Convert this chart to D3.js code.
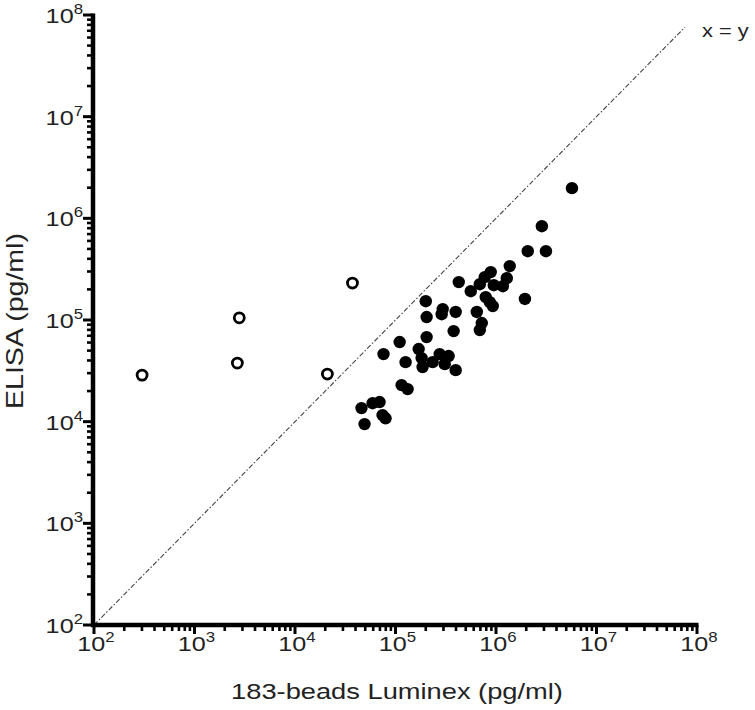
<!DOCTYPE html>
<html><head><meta charset="utf-8">
<script src="https://cdn.jsdelivr.net/npm/d3@7"></script>
<style>
body{margin:0;background:#fff}
svg{display:block}
text{font-family:"Liberation Sans",Arial,sans-serif;fill:#222}
</style></head>
<body>
<script>
// ---- data ----
const filledX = [5.7e6, 2.86e6, 2.07e6, 3.14e6, 1.37e6, 8.87e5, 7.73e5, 1.28e6, 4.26e5, 5.61e5, 6.9e5, 9.51e5, 1.17e6, 7.9e5, 8.67e5, 9.29e5, 1.94e6, 2.0e5, 2.95e5, 2.88e5, 3.97e5, 6.44e5, 2.04e5, 7.22e5, 6.9e5, 3.79e5, 2.04e5, 1.1e5, 7.6e4, 1.7e5, 1.82e5, 1.26e5, 1.86e5, 2.34e5, 2.75e5, 3.38e5, 3.09e5, 3.97e5, 1.15e5, 1.32e5, 4.59e4, 5.92e4, 6.94e4, 7.43e4, 7.96e4, 4.92e4];
const filledY = [1.98e6, 8.37e5, 4.75e5, 4.75e5, 3.39e5, 2.96e5, 2.64e5, 2.58e5, 2.36e5, 1.92e5, 2.25e5, 2.2e5, 2.15e5, 1.68e5, 1.5e5, 1.37e5, 1.61e5, 1.53e5, 1.28e5, 1.14e5, 1.2e5, 1.2e5, 1.07e5, 9.33e4, 7.96e4, 7.78e4, 6.79e4, 6.07e4, 4.62e4, 5.18e4, 4.22e4, 3.85e4, 3.44e4, 3.85e4, 4.62e4, 4.42e4, 3.68e4, 3.21e4, 2.29e4, 2.09e4, 1.36e4, 1.52e4, 1.56e4, 1.16e4, 1.08e4, 9.46e3];
const openX = [301, 2790, 2670, 21000, 37300];
const openY = [28700, 105000, 37700, 29400, 231000];
const majorTicks = [1e2, 1e3, 1e4, 1e5, 1e6, 1e7, 1e8];
const tickBase = "10";
const tickExponents = ["2", "3", "4", "5", "6", "7", "8"];
const identityLine = [1e2, 7.6e7];
const xTitle = "183-beads Luminex (pg/ml)";
const yTitle = "ELISA (pg/ml)";
const lineLabel = "x = y";

// ---- chart ----
const W = 755, H = 710;
const svg = d3.select("body").append("svg").attr("width", W).attr("height", H);
const x = d3.scaleLog().domain([1e2, 1e8]).range([94, 697]);
const y = d3.scaleLog().domain([1e2, 1e8]).range([625, 15]);

const minorTicks = [];
majorTicks.slice(0, -1).forEach(d => { for (let k = 2; k <= 9; k++) minorTicks.push(d * k); });

// identity line
svg.append("line")
  .attr("x1", x(identityLine[0])).attr("y1", y(identityLine[0]))
  .attr("x2", x(identityLine[1])).attr("y2", y(identityLine[1]))
  .attr("stroke", "#444").attr("stroke-width", 1.1)
  .attr("stroke-dasharray", "5,2,1.5,2");

svg.append("text")
  .attr("transform", `translate(702,37) scale(1.15,1)`)
  .attr("font-size", 19)
  .text(lineLabel);

// points
const filled = filledX.map((v, i) => [v, filledY[i]]);
const open = openX.map((v, i) => [v, openY[i]]);
svg.append("g").selectAll("circle").data(filled).join("circle")
  .attr("cx", d => x(d[0])).attr("cy", d => y(d[1])).attr("r", 6.2).attr("fill", "#000");
svg.append("g").selectAll("circle").data(open).join("circle")
  .attr("cx", d => x(d[0])).attr("cy", d => y(d[1])).attr("r", 5)
  .attr("fill", "#fff").attr("stroke", "#000").attr("stroke-width", 2.8);

// axes
const axisX = 93, axisY = 625;
const gx = svg.append("g");
gx.append("line").attr("x1", axisX - 2).attr("x2", x(1e8) + 1.5).attr("y1", axisY).attr("y2", axisY)
  .attr("stroke", "#000").attr("stroke-width", 4.5);
gx.selectAll(".mj").data(majorTicks).join("line")
  .attr("x1", d => x(d)).attr("x2", d => x(d)).attr("y1", axisY).attr("y2", axisY + 9)
  .attr("stroke", "#000").attr("stroke-width", 3);
gx.selectAll(".mn").data(minorTicks).join("line")
  .attr("x1", d => x(d)).attr("x2", d => x(d)).attr("y1", axisY).attr("y2", axisY + 6)
  .attr("stroke", "#000").attr("stroke-width", 2.6);

const gy = svg.append("g");
gy.append("line").attr("y1", y(1e8) - 1.5).attr("y2", axisY + 2).attr("x1", axisX).attr("x2", axisX)
  .attr("stroke", "#000").attr("stroke-width", 4.5);
gy.selectAll(".mj").data(majorTicks).join("line")
  .attr("y1", d => y(d)).attr("y2", d => y(d)).attr("x1", axisX).attr("x2", axisX - 10)
  .attr("stroke", "#000").attr("stroke-width", 3);
gy.selectAll(".mn").data(minorTicks).join("line")
  .attr("y1", d => y(d)).attr("y2", d => y(d)).attr("x1", axisX).attr("x2", axisX - 6)
  .attr("stroke", "#000").attr("stroke-width", 2.6);

function tickLabel(sel, anchor) {
  sel.attr("font-size", 21).attr("text-anchor", anchor);
  sel.append("tspan").text(tickBase);
  sel.append("tspan").attr("font-size", 14).attr("dy", -9).text((d, i) => tickExponents[i]);
}
svg.append("g").selectAll("text").data(majorTicks).join("text")
  .attr("transform", d => `translate(${x(d) + 2},651) scale(1.2,1)`)
  .call(tickLabel, "middle");
svg.append("g").selectAll("text").data(majorTicks).join("text")
  .attr("transform", d => `translate(83,${y(d) + 8}) scale(1.2,1)`)
  .call(tickLabel, "end");

// titles
svg.append("text")
  .attr("transform", "translate(397,699) scale(1.24,1)")
  .attr("text-anchor", "middle").attr("font-size", 22)
  .text(xTitle);
svg.append("text")
  .attr("transform", "translate(23,321) rotate(-90) scale(1.24,1)")
  .attr("text-anchor", "middle").attr("font-size", 23)
  .text(yTitle);
</script>
</body></html>
